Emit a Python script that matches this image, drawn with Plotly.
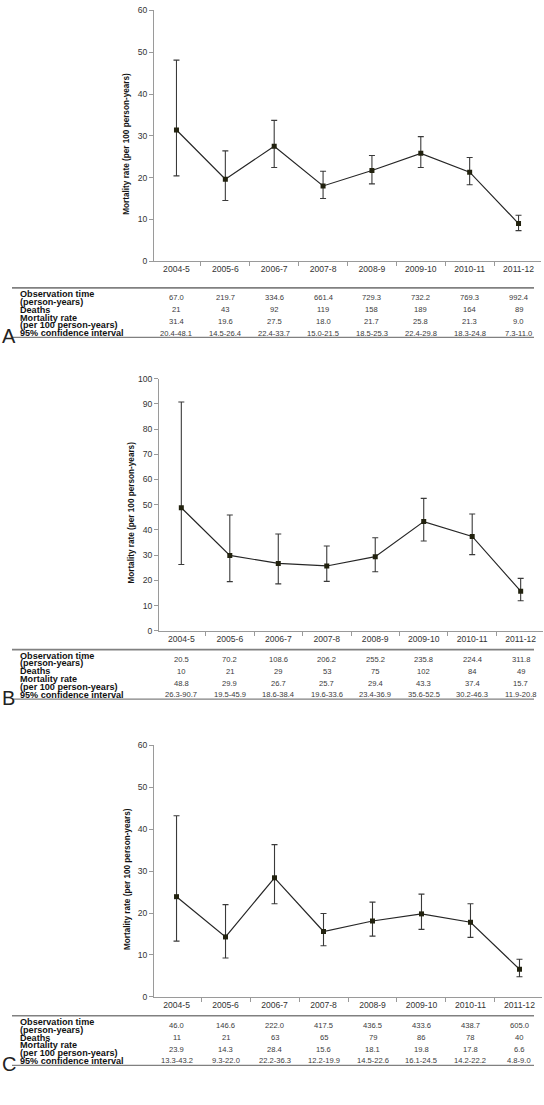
import plotly.graph_objects as go

W, H = 544, 1105

periods = ["2004-5", "2005-6", "2006-7", "2007-8", "2008-9", "2009-10", "2010-11", "2011-12"]

# Panel A
a_obs = [67.0, 219.7, 334.6, 661.4, 729.3, 732.2, 769.3, 992.4]
a_deaths = [21, 43, 92, 119, 158, 189, 164, 89]
a_rate = [31.4, 19.6, 27.5, 18.0, 21.7, 25.8, 21.3, 9.0]
a_lo = [20.4, 14.5, 22.4, 15.0, 18.5, 22.4, 18.3, 7.3]
a_hi = [48.1, 26.4, 33.7, 21.5, 25.3, 29.8, 24.8, 11.0]

# Panel B
b_obs = [20.5, 70.2, 108.6, 206.2, 255.2, 235.8, 224.4, 311.8]
b_deaths = [10, 21, 29, 53, 75, 102, 84, 49]
b_rate = [48.8, 29.9, 26.7, 25.7, 29.4, 43.3, 37.4, 15.7]
b_lo = [26.3, 19.5, 18.6, 19.6, 23.4, 35.6, 30.2, 11.9]
b_hi = [90.7, 45.9, 38.4, 33.6, 36.9, 52.5, 46.3, 20.8]

# Panel C
c_obs = [46.0, 146.6, 222.0, 417.5, 436.5, 433.6, 438.7, 605.0]
c_deaths = [11, 21, 63, 65, 79, 86, 78, 40]
c_rate = [23.9, 14.3, 28.4, 15.6, 18.1, 19.8, 17.8, 6.6]
c_lo = [13.3, 9.3, 22.2, 12.2, 14.5, 16.1, 14.2, 4.8]
c_hi = [43.2, 22.0, 36.3, 19.9, 22.6, 24.5, 22.2, 9.0]

y_title = "Mortality rate (per 100 person-years)"
row_labels = ["Observation time", "(person-years)", "Deaths", "Mortality rate",
              "(per 100 person-years)", "95% confidence interval"]

FONT = "Arial, Liberation Sans, sans-serif"


def fy(p):
    return 1 - p / H


def fx(p):
    return p / W


panels = [
    dict(letter="A", obs=a_obs, deaths=a_deaths, rate=a_rate, lo=a_lo, hi=a_hi,
         ymax=60, x0=154, x1=541, y0=258.5, y1=5.5, table=285.5),
    dict(letter="B", obs=b_obs, deaths=b_deaths, rate=b_rate, lo=b_lo, hi=b_hi,
         ymax=100, x0=159, x1=543, y0=631.5, y1=377, table=650.5),
    dict(letter="C", obs=c_obs, deaths=c_deaths, rate=c_rate, lo=c_lo, hi=c_hi,
         ymax=60, x0=154, x1=542, y0=1001, y1=747, table=1020),
]

TBL_H = 50

fig = go.Figure()
annotations = []
shapes = []
layout = {}

for i, p in enumerate(panels):
    n = "" if i == 0 else str(i + 1)
    xa, ya = "x" + n, "y" + n
    fig.add_trace(go.Scatter(
        x=periods, y=p["rate"], xaxis=xa, yaxis=ya, mode="lines+markers",
        line=dict(color="#262626", width=1.2),
        marker=dict(symbol="square", size=5, color="#22220f"),
        error_y=dict(type="data", symmetric=False,
                     array=[h - r for h, r in zip(p["hi"], p["rate"])],
                     arrayminus=[r - l for r, l in zip(p["rate"], p["lo"])],
                     color="#3a3a3a", thickness=1.1, width=3),
        showlegend=False, hoverinfo="skip"))
    layout["xaxis" + n] = dict(
        domain=[fx(p["x0"]), fx(p["x1"])], anchor=ya, type="category",
        showline=True, linecolor="#9a9a9a", linewidth=1,
        ticks="outside", tickson="boundaries", ticklen=4, tickcolor="#9a9a9a",
        showgrid=False, zeroline=False,
        tickfont=dict(family=FONT, size=8.6, color="#333333"))
    layout["yaxis" + n] = dict(
        domain=[fy(p["y0"]), fy(p["y1"])], anchor=xa, range=[0, p["ymax"]],
        dtick=10, showline=True, linecolor="#9a9a9a", linewidth=1,
        ticks="outside", ticklen=4, tickcolor="#9a9a9a",
        showgrid=False, zeroline=False,
        tickfont=dict(family=FONT, size=8.6, color="#333333"))
    # y-axis title
    annotations.append(dict(
        text="<b>" + y_title + "</b>", xref="paper", yref="paper",
        x=fx(p["x0"] - 27), y=fy((p["y0"] + p["y1"]) / 2 + 8), textangle=-90,
        showarrow=False, xanchor="center", yanchor="middle",
        font=dict(family=FONT, size=8.2, color="#111111")))

    t = p["table"]
    # table rules
    shapes.append(dict(type="line", xref="paper", yref="paper",
                       x0=fx(12), x1=fx(534), y0=fy(t), y1=fy(t),
                       line=dict(color="#808080", width=1.6)))
    shapes.append(dict(type="line", xref="paper", yref="paper",
                       x0=fx(12), x1=fx(534), y0=fy(t + TBL_H), y1=fy(t + TBL_H),
                       line=dict(color="#808080", width=1.2)))
    label_offsets = [6.0, 13.9, 22.0, 29.9, 37.6, 45.6]
    for lab, off in zip(row_labels, label_offsets):
        annotations.append(dict(
            text="<b>" + lab + "</b>", xref="paper", yref="paper",
            x=fx(18), y=fy(t + off), xanchor="left", yanchor="middle",
            showarrow=False, font=dict(family=FONT, size=9.1, color="#111111")))
    rows = [
        ([f"{v:.1f}" for v in p["obs"]], 10.0),
        ([f"{v:d}" for v in p["deaths"]], 22.0),
        ([f"{v:.1f}" for v in p["rate"]], 33.8),
        ([f"{l:.1f}-{h:.1f}" for l, h in zip(p["lo"], p["hi"])], 45.6),
    ]
    for texts, off in rows:
        for cat, txt in zip(periods, texts):
            annotations.append(dict(
                text=txt, xref=xa, yref="paper", x=cat, y=fy(t + off),
                xanchor="center", yanchor="middle", showarrow=False,
                font=dict(family=FONT, size=7.6, color="#3a3a3a")))
    # panel letter, centred on the bottom rule
    annotations.append(dict(
        text=p["letter"], xref="paper", yref="paper", x=fx(0), y=fy(t + TBL_H - 1),
        xanchor="left", yanchor="middle", showarrow=False,
        font=dict(family=FONT, size=20, color="#222222")))

fig.update_layout(
    width=W, height=H, margin=dict(l=0, r=0, t=0, b=0),
    paper_bgcolor="white", plot_bgcolor="white",
    annotations=annotations, shapes=shapes, **layout)

fig.write_html(
    "out.html",
    config={"displayModeBar": False},
    post_script="document.body.style.margin='0';document.body.style.overflow='hidden';")
